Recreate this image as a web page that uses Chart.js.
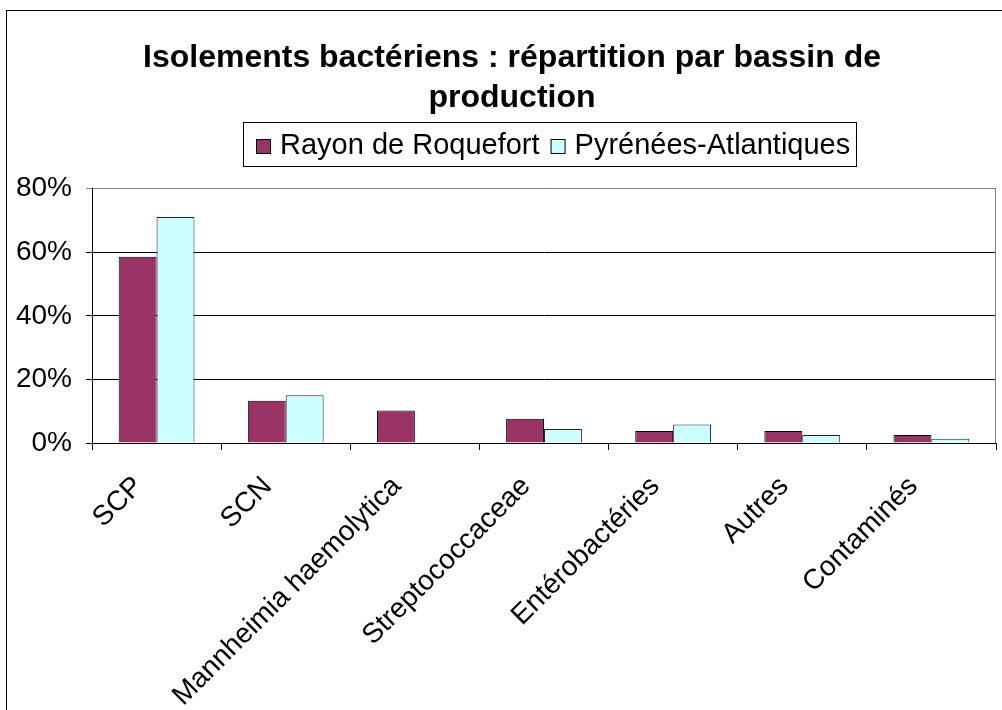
<!DOCTYPE html>
<html>
<head>
<meta charset="utf-8">
<script src="https://cdn.jsdelivr.net/npm/chart.js@4/dist/chart.umd.min.js"></script>
<style>
  html, body { margin: 0; padding: 0; background: #fff; overflow: hidden; }
  #wrap { position: absolute; left: 6px; top: 10px; width: 1012px; height: 700px; }
</style>
</head>
<body>
<div id="wrap"><canvas id="myChart" width="1012" height="700"></canvas></div>
<script>
// DATA
const categories = ['SCP', 'SCN', 'Mannheimia haemolytica', 'Streptococcaceae', 'Entérobactéries', 'Autres', 'Contaminés'];
const rayonValues = [58.6, 13.3, 10.2, 7.6, 3.8, 3.8, 2.5];
const pyreneesValues = [71.1, 15.0, 0, 4.4, 5.8, 2.5, 1.3];
const yTicks = [0, 20, 40, 60, 80];
const seriesNames = ['Rayon de Roquefort', 'Pyrénées-Atlantiques'];
const titleLines = ['Isolements bactériens : répartition par bassin de', 'production'];

const FONT = "'Liberation Sans', Arial, sans-serif";

// ------------------------------------------------------------------
// frame, plot border and boxed legend (Excel look)
const excelLook = {
  id: 'excelLook',
  beforeDraw(chart) {
    const c = chart.ctx;
    c.save();
    c.strokeStyle = '#000';
    c.lineWidth = 1;
    c.strokeRect(0.5, 0.5, chart.width + 20, chart.height + 20);
    c.restore();
  },
  afterDraw(chart) {
    const c = chart.ctx;
    const a = chart.chartArea;
    c.save();
    // right border of plot area
    c.strokeStyle = '#808080';
    c.beginPath();
    c.moveTo(Math.round(a.right) - 0.5, a.top);
    c.lineTo(Math.round(a.right) - 0.5, a.bottom);
    c.stroke();

    // legend box
    const bx = 237, by = 112, bw = 613, bh = 44;
    c.strokeStyle = '#000';
    c.strokeRect(bx + 0.5, by + 0.5, bw, bh);
    c.font = '29px ' + FONT;
    c.textBaseline = 'middle';
    c.fillStyle = '#000';
    let x = bx + 13;
    const midY = by + bh / 2 + 2;
    chart.data.datasets.forEach(ds => {
      c.fillStyle = ds.backgroundColor;
      c.fillRect(x, midY - 7, 15, 15);
      c.strokeStyle = '#000';
      c.strokeRect(x + 0.5, midY - 6.5, 14, 14);
      c.fillStyle = '#000';
      c.fillText(ds.label, x + 24, midY);
      x += 24 + c.measureText(ds.label).width + 11;
    });
    c.restore();
  }
};

const ctx = document.getElementById('myChart');

const myChart = new Chart(ctx, {
  type: 'bar',
  data: {
    labels: categories,
    datasets: [{
      label: seriesNames[0],
      data: rayonValues,
      backgroundColor: '#993366',
      borderColor: '#000',
      borderWidth: 1,
    }, {
      label: seriesNames[1],
      data: pyreneesValues,
      backgroundColor: '#CCFFFF',
      borderColor: '#222',
      borderWidth: 1,
    }],
  },
  options: {
    responsive: false,
    animation: false,
    datasets: {
      bar: { categoryPercentage: 0.587, barPercentage: 1 },
    },
    layout: { padding: 0 },
    plugins: {
      legend: { display: false },
      tooltip: { enabled: false },
      title: {
        display: true,
        text: titleLines,
        color: '#000',
        font: { family: FONT, size: 32, weight: 'bold', lineHeight: 1.26 },
        padding: { top: 28, bottom: 70 },
      },
    },
    scales: {
      x: {
        grid: {
          offset: true,
          drawOnChartArea: false,
          color: '#000',
          tickLength: 7,
        },
        border: { color: '#000' },
        ticks: {
          color: '#000',
          font: { family: FONT, size: 28 },
          maxRotation: 45,
          minRotation: 45,
          padding: 20,
          labelOffset: -18,
          autoSkip: false,
        },
        afterFit(scale) { scale.height = 267; },
      },
      y: {
        min: 0,
        max: 80,
        afterBuildTicks(scale) { scale.ticks = yTicks.map(v => ({ value: v })); },
        grid: {
          color: c => (c.tick && c.tick.value === 80 ? '#808080' : '#000'),
          tickLength: 6,
        },
        border: { color: '#000' },
        ticks: {
          color: '#000',
          font: { family: FONT, size: 28 },
          padding: 14,
          callback: v => v + '%',
        },
        afterFit(scale) { scale.width = 86; },
      },
      // empty strip on the right, keeps the title centred on the whole frame
      yRight: {
        position: 'right',
        min: 0,
        max: 80,
        grid: { display: false },
        border: { display: false },
        ticks: { display: false },
        afterFit(scale) { scale.width = 22; },
      },
    },
  },
  plugins: [excelLook],
});
</script>
</body>
</html>
